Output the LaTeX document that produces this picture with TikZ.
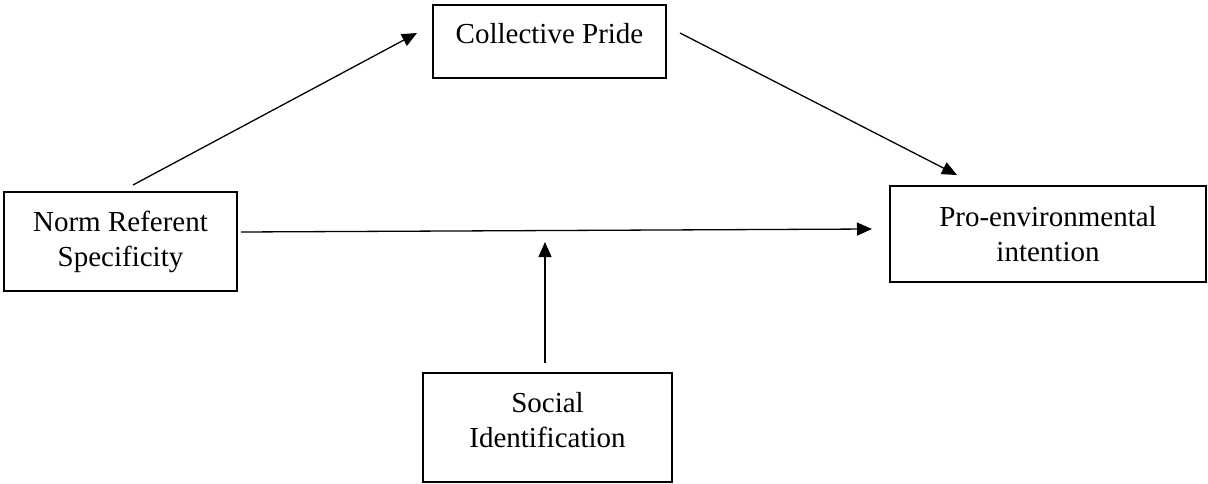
\documentclass[tikz,border=0pt]{standalone}
\usepackage{fontspec}
\setmainfont{Liberation Serif}
\usetikzlibrary{arrows.meta}
\begin{document}
\begin{tikzpicture}[x=1pt,y=-1pt,
  box/.style={draw=black, line width=1.8pt, inner sep=0pt, align=center,
    font=\fontsize{29}{35}\selectfont},
  arr/.style={line width=1.3pt, -{Triangle[length=15pt,width=13pt]}}]
\useasboundingbox (0,0) rectangle (1208,484);
\fill[white] (0,0) rectangle (1208,484);
\node[box, minimum width=233pt, minimum height=73pt] (cp) at (549.5,41.5)
  {Collective Pride\rule[-17pt]{0pt}{17pt}};
\node[box, minimum width=233pt, minimum height=99pt] (nrs) at (120.5,241.5)
  {Norm Referent\\Specificity};
\node[box, minimum width=316pt, minimum height=96pt] (pe) at (1048,234)
  {Pro-environmental\\intention};
\node[box, minimum width=249pt, minimum height=109pt] (si) at (547.5,427.5)
  {Social\\Identification\rule[-15pt]{0pt}{15pt}};
\coordinate (a1s) at (133,185);
\coordinate (a1e) at (417,33);
\coordinate (a2s) at (680,33);
\coordinate (a2e) at (957,175);
\coordinate (a3s) at (241,232);
\coordinate (a3e) at (872,229);
\coordinate (a4s) at (545,363);
\coordinate (a4e) at (545,242);
\draw[arr] (a1s) -- (a1e);
\draw[arr] (a2s) -- (a2e);
\draw[arr] (a3s) -- (a3e);
\draw[arr] (a4s) -- (a4e);
\end{tikzpicture}
\end{document}
